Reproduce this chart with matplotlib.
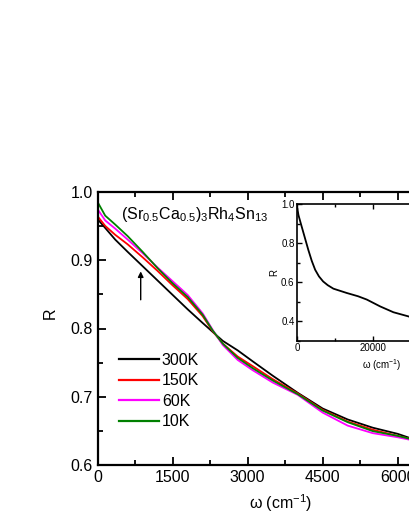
import matplotlib
matplotlib.use("Agg")
import matplotlib.pyplot as plt

plt.rcParams['font.family'] = ['Liberation Sans', 'DejaVu Sans']
plt.rcParams['mathtext.fontset'] = 'custom'
plt.rcParams['mathtext.rm'] = 'Liberation Sans'
plt.rcParams['mathtext.it'] = 'Liberation Sans:italic'

# ---- data ----
omega = [20, 150, 350, 600, 900, 1200, 1500, 1800, 2100, 2300, 2500, 2800,
         3100, 3500, 4000, 4500, 5000, 5500, 6000, 6400]
R_300K = [0.958, 0.947, 0.930, 0.912, 0.891, 0.870, 0.849, 0.828, 0.808, 0.795,
          0.782, 0.768, 0.752, 0.731, 0.706, 0.683, 0.667, 0.655, 0.646, 0.636]
R_150K = [0.962, 0.950, 0.937, 0.923, 0.904, 0.884, 0.863, 0.843, 0.818, 0.796,
          0.778, 0.759, 0.745, 0.726, 0.705, 0.681, 0.664, 0.652, 0.643, 0.636]
R_60K = [0.972, 0.958, 0.946, 0.930, 0.910, 0.889, 0.869, 0.849, 0.822, 0.798,
         0.776, 0.754, 0.739, 0.721, 0.703, 0.677, 0.658, 0.647, 0.641, 0.635]
R_10K = [0.982, 0.965, 0.952, 0.935, 0.912, 0.888, 0.866, 0.846, 0.820, 0.797,
         0.778, 0.757, 0.742, 0.724, 0.704, 0.680, 0.663, 0.650, 0.643, 0.636]
series_labels = ['300K', '150K', '60K', '10K']
series_colors = ['black', '#ff0000', '#ff00ff', '#008000']

inset_omega = [50, 300, 800, 1600, 2900, 3800, 4700, 5700, 6800, 8000, 9500,
               13000, 16000, 18300, 21800, 25300, 29200, 33000, 38000]
inset_R = [0.975, 0.945, 0.91, 0.855, 0.766, 0.71, 0.664, 0.63, 0.604, 0.585,
           0.567, 0.545, 0.528, 0.511, 0.476, 0.446, 0.425, 0.40, 0.38]

arrow_omega = 860
arrow_tail_R = 0.842
arrow_head_R = 0.8835

title = r'(Sr$_{0.5}$Ca$_{0.5}$)$_3$Rh$_4$Sn$_{13}$'
xlabel = 'ω (cm$^{-1}$)'

# ---- figure ----
W, H = 409, 529
fig = plt.figure(figsize=(W / 100, H / 100), dpi=100)

ax = fig.add_axes([97.7 / W, (H - 465.3) / H, 365 / W, (465.3 - 191.7) / H])
for y, lab, col in zip([R_300K, R_150K, R_60K, R_10K], series_labels, series_colors):
    ax.plot(omega, y, color=col, lw=1.3, label=lab)

ax.set_xlim(0, 7300)
ax.set_ylim(0.6, 1.0)
ax.set_xticks([0, 1500, 3000, 4500, 6000])
ax.set_xticks([750, 2250, 3750, 5250, 6750], minor=True)
ax.set_yticks([0.6, 0.7, 0.8, 0.9, 1.0])
ax.set_yticklabels(['0.6', '0.7', '0.8', '0.9', '1.0'])
ax.set_yticks([0.65, 0.75, 0.85, 0.95], minor=True)
ax.tick_params(which='both', direction='in', top=True, right=True, width=1.3,
               labelsize=11.5)
ax.tick_params(which='major', length=6)
ax.tick_params(which='minor', length=3.5)
for s in ax.spines.values():
    s.set_linewidth(1.6)

ax.set_ylabel('R', fontsize=11.5)
ax.yaxis.set_label_coords(-0.11, 0.556)
ax.set_xlabel(xlabel, fontsize=11.5)
ax.xaxis.set_label_coords(0.5, -0.1)

ax.text(0.065, 0.9, title, transform=ax.transAxes, fontsize=11.5, va='baseline')

ax.annotate('', xy=(arrow_omega, arrow_head_R), xytext=(arrow_omega, arrow_tail_R),
            arrowprops=dict(arrowstyle='-|>', lw=1.0, color='black',
                            mutation_scale=8, shrinkA=0, shrinkB=0))

leg = ax.legend(loc='upper left', bbox_to_anchor=(0.04, 0.435), frameon=False,
                fontsize=11.5, handlelength=2.5, handletextpad=0.2,
                labelspacing=0.35, borderaxespad=0)
for line in leg.get_lines():
    line.set_linewidth(1.6)

# ---- inset ----
ins = fig.add_axes([297.3 / W, (H - 340.7) / H, 152 / W, (340.7 - 204.3) / H])
ins.plot(inset_omega, inset_R, color='black', lw=1.3)
ins.set_xlim(0, 40000)
ins.set_ylim(0.3, 1.0)
ins.set_xticks([0, 20000, 40000])
ins.set_xticks([10000, 30000], minor=True)
ins.set_yticks([0.4, 0.6, 0.8, 1.0])
ins.set_yticklabels(['0.4', '0.6', '0.8', '1.0'])
ins.set_yticks([0.3, 0.5, 0.7, 0.9], minor=True)
ins.tick_params(which='both', direction='in', top=True, right=True, width=1.0,
                labelsize=7, pad=2)
ins.tick_params(which='major', length=3.5)
ins.tick_params(which='minor', length=2)
for s in ins.spines.values():
    s.set_linewidth(1.2)
ins.set_ylabel('R', fontsize=7, labelpad=1)
ins.set_xlabel(xlabel, fontsize=7, labelpad=1)
ins.xaxis.set_label_coords(84.4 / 152, -0.12)

fig.savefig('out.png', dpi=100)
